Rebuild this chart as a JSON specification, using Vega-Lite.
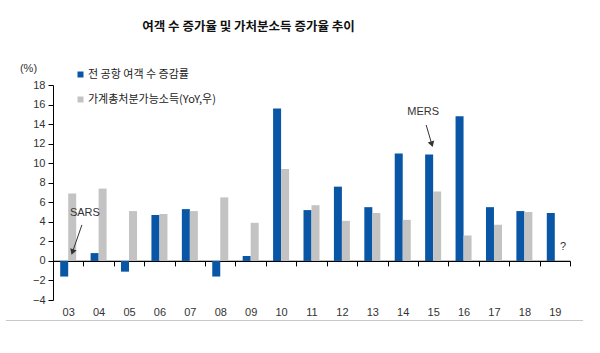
{
  "$schema": "https://vega.github.io/schema/vega-lite/v6.json",
  "width": 517,
  "height": 215,
  "autosize": {"type": "none"},
  "padding": {"left": 53, "top": 85, "right": 30, "bottom": 53},
  "background": "white",
  "title": {
    "text": "여객 수 증가율 및 가처분소득 증가율 추이",
    "anchor": "start",
    "dx": 137,
    "offset": 29,
    "fontSize": 12.5,
    "fontWeight": "bold",
    "font": "Noto Sans CJK KR",
    "color": "#111"
  },
  "config": {
    "view": {"stroke": null},
    "font": "Liberation Sans, Noto Sans CJK KR"
  },
  "datasets": {
    "bars": [
      {"year": "03", "series": "전 공항 여객 수 증감률", "value": -1.6},
      {"year": "04", "series": "전 공항 여객 수 증감률", "value": 0.8},
      {"year": "05", "series": "전 공항 여객 수 증감률", "value": -1.1},
      {"year": "06", "series": "전 공항 여객 수 증감률", "value": 4.7},
      {"year": "07", "series": "전 공항 여객 수 증감률", "value": 5.3},
      {"year": "08", "series": "전 공항 여객 수 증감률", "value": -1.6},
      {"year": "09", "series": "전 공항 여객 수 증감률", "value": 0.5},
      {"year": "10", "series": "전 공항 여객 수 증감률", "value": 15.6},
      {"year": "11", "series": "전 공항 여객 수 증감률", "value": 5.2},
      {"year": "12", "series": "전 공항 여객 수 증감률", "value": 7.6},
      {"year": "13", "series": "전 공항 여객 수 증감률", "value": 5.5},
      {"year": "14", "series": "전 공항 여객 수 증감률", "value": 11.0},
      {"year": "15", "series": "전 공항 여객 수 증감률", "value": 10.9},
      {"year": "16", "series": "전 공항 여객 수 증감률", "value": 14.8},
      {"year": "17", "series": "전 공항 여객 수 증감률", "value": 5.5},
      {"year": "18", "series": "전 공항 여객 수 증감률", "value": 5.1},
      {"year": "19", "series": "전 공항 여객 수 증감률", "value": 4.9},
      {"year": "03", "series": "가계총처분가능소득(YoY,우)", "value": 6.9},
      {"year": "04", "series": "가계총처분가능소득(YoY,우)", "value": 7.4},
      {"year": "05", "series": "가계총처분가능소득(YoY,우)", "value": 5.1},
      {"year": "06", "series": "가계총처분가능소득(YoY,우)", "value": 4.8},
      {"year": "07", "series": "가계총처분가능소득(YoY,우)", "value": 5.1},
      {"year": "08", "series": "가계총처분가능소득(YoY,우)", "value": 6.5},
      {"year": "09", "series": "가계총처분가능소득(YoY,우)", "value": 3.9},
      {"year": "10", "series": "가계총처분가능소득(YoY,우)", "value": 9.4},
      {"year": "11", "series": "가계총처분가능소득(YoY,우)", "value": 5.7},
      {"year": "12", "series": "가계총처분가능소득(YoY,우)", "value": 4.1},
      {"year": "13", "series": "가계총처분가능소득(YoY,우)", "value": 4.9},
      {"year": "14", "series": "가계총처분가능소득(YoY,우)", "value": 4.2},
      {"year": "15", "series": "가계총처분가능소득(YoY,우)", "value": 7.1},
      {"year": "16", "series": "가계총처분가능소득(YoY,우)", "value": 2.6},
      {"year": "17", "series": "가계총처분가능소득(YoY,우)", "value": 3.7},
      {"year": "18", "series": "가계총처분가능소득(YoY,우)", "value": 5.0}
    ],
    "labels": [
      {"label": "SARS", "pos": 3.55, "value": 4.9},
      {"label": "MERS", "pos": 14.67, "value": 15.24},
      {"label": "?", "pos": 19.27, "value": 1.43}
    ],
    "arrows": [
      {"name": "SARS", "pos": 3.45, "value": 3.68, "pos2": 3.14, "value2": 0.9},
      {"name": "MERS", "pos": 14.77, "value": 13.91, "pos2": 14.956, "value2": 11.94}
    ],
    "heads": [
      {"name": "SARS", "pos": 3.14, "value": 0.9, "angle": 199.5},
      {"name": "MERS", "pos": 14.956, "value": 11.94, "angle": 163.1}
    ],
    "sep": [{"pos": 0.95, "pos2": 19.93, "value": -6.1, "value2": -6.1}]
  },
  "encoding": {
    "y": {
      "field": "value",
      "type": "quantitative",
      "scale": {"domain": [-4, 18], "nice": false, "zero": false},
      "axis": {
        "values": [-4, -2, 0, 2, 4, 6, 8, 10, 12, 14, 16, 18],
        "labelOverlap": false,
        "grid": false,
        "title": "(%)",
        "titleAngle": 0,
        "titleX": -25,
        "titleY": -17,
        "titleAlign": "center",
        "titleBaseline": "middle",
        "titleFontSize": 11,
        "titleFontWeight": "normal",
        "titleColor": "#333",
        "domainColor": "#000",
        "tickColor": "#000",
        "tickSize": 5,
        "labelPadding": 3,
        "labelFontSize": 11,
        "labelColor": "#333"
      }
    }
  },
  "layer": [
    {
      "data": {"name": "bars"},
      "mark": {"type": "bar"},
      "encoding": {
        "x": {
          "field": "year",
          "type": "ordinal",
          "scale": {"paddingInner": 0, "paddingOuter": 0},
          "axis": {
            "title": null,
            "labelAngle": 0,
            "offset": -39.1,
            "domainColor": "#000",
            "domainWidth": 1.2,
            "tickColor": "#000",
            "tickBand": "extent",
            "tickSize": 5,
            "labelPadding": 41,
            "labelBaseline": "top",
            "labelFontSize": 11,
            "labelColor": "#333"
          }
        },
        "xOffset": {
          "field": "series",
          "type": "nominal",
          "scale": {"domain": ["전 공항 여객 수 증감률", "가계총처분가능소득(YoY,우)"], "paddingInner": 0, "paddingOuter": 0.9}
        },
        "color": {
          "field": "series",
          "type": "nominal",
          "scale": {"domain": ["전 공항 여객 수 증감률", "가계총처분가능소득(YoY,우)"], "range": ["#0A56A6", "#C3C3C3"]},
          "legend": {
            "title": null,
            "orient": "none",
            "legendX": 22,
            "legendY": -16,
            "direction": "vertical",
            "symbolType": "square",
            "symbolSize": 36,
            "symbolStrokeWidth": 0,
            "labelOffset": 2,
            "labelFontSize": 11,
            "labelColor": "#222",
            "labelFont": "Noto Sans CJK KR",
            "rowPadding": 13,
            "labelLimit": 300
          }
        }
      }
    },
    {
      "layer": [
        {
          "data": {"name": "sep"},
          "mark": {"type": "rule", "color": "#c8c8c8", "strokeWidth": 1.2, "clip": false},
          "encoding": {
            "x": {"field": "pos", "type": "quantitative", "scale": {"domain": [2.5, 19.5], "nice": false, "zero": false}, "axis": null},
            "x2": {"field": "pos2"},
            "y2": {"field": "value2"}
          }
        },
        {
          "data": {"name": "labels"},
          "mark": {"type": "text", "fontSize": 11, "color": "#333", "align": "center", "baseline": "middle"},
          "encoding": {
            "x": {"field": "pos", "type": "quantitative", "scale": {"domain": [2.5, 19.5], "nice": false, "zero": false}, "axis": null},
            "text": {"field": "label"}
          }
        },
        {
          "data": {"name": "arrows"},
          "mark": {"type": "rule", "color": "#333", "strokeWidth": 1},
          "encoding": {
            "x": {"field": "pos", "type": "quantitative", "scale": {"domain": [2.5, 19.5], "nice": false, "zero": false}, "axis": null},
            "x2": {"field": "pos2"},
            "y2": {"field": "value2"}
          }
        },
        {
          "data": {"name": "heads"},
          "mark": {"type": "point", "shape": "triangle-up", "filled": true, "color": "#333", "size": 45, "opacity": 1},
          "encoding": {
            "x": {"field": "pos", "type": "quantitative", "scale": {"domain": [2.5, 19.5], "nice": false, "zero": false}, "axis": null},
            "angle": {"field": "angle", "type": "quantitative", "scale": null}
          }
        }
      ]
    }
  ],
  "resolve": {"scale": {"x": "independent"}}
}
